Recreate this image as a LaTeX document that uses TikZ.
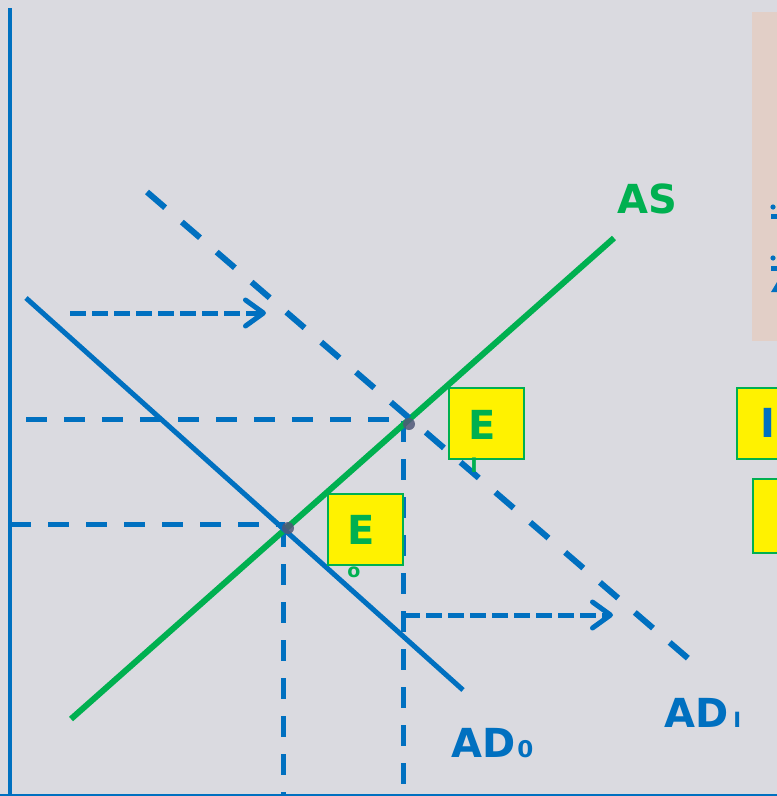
\documentclass[tikz,border=0pt]{standalone}
\usepackage{fontspec}
\setmainfont{DejaVu Sans}
\usetikzlibrary{arrows.meta}
\definecolor{bgc}{RGB}{218,218,224}
\definecolor{pinkc}{RGB}{226,207,199}
\definecolor{bluec}{RGB}{0,112,192}
\definecolor{greenc}{RGB}{0,176,80}
\definecolor{dotc}{RGB}{80,88,120}
\tikzset{
  axisline/.style={draw=bluec, line width=4pt},
  guide/.style={draw=bluec, line width=5pt, dash pattern=on 21pt off 17pt},
  adline/.style={draw=bluec, line width=5pt},
  addash/.style={draw=bluec, line width=6pt, dash pattern=on 24pt off 22pt},
  asline/.style={draw=greenc, line width=6pt},
  shiftarrow/.style={draw=bluec, line width=5pt, dash pattern=on 16pt off 6pt,
    -{Straight Barb[length=18pt,width=26pt,line width=5pt,round]}},
  ebox/.style={draw=greenc, line width=1.5pt, fill=yellow, minimum width=75pt, minimum height=71pt, inner sep=0pt},
  bigtxt/.style={font=\fontsize{40}{40}\selectfont\bfseries, inner sep=0pt},
  eqdot/.style={circle, fill=dotc, opacity=0.85, minimum size=12pt, inner sep=0pt},
  marker/.style={fill=bluec},
}
\begin{document}
\begin{tikzpicture}[x=1pt,y=-1pt]
\useasboundingbox (0,0) rectangle (777,796);
\clip (0,0) rectangle (777,796);
\fill[bgc] (0,0) rectangle (777,796);
\fill[pinkc] (752,12) rectangle (790,341);
% fragments of cut-off text in the pink panel
\fill[marker] (773,207) circle (2.6);
\fill[marker] (771,214) rectangle (779,219);
\fill[marker] (773,258) circle (2.6);
\fill[marker] (771,266) rectangle (779,271);
\fill[marker] (771,292) -- (777,282) -- (777,292) -- cycle;

% axes
\coordinate (ytop) at (10,8);
\coordinate (origin) at (10,796);
\coordinate (xend) at (790,795);
\draw[axisline] (ytop) -- (origin);
\draw[draw=bluec, line width=3pt] (0,795) -- (xend);

% key points
\coordinate (P0) at (285,525);
\coordinate (P1) at (405,420);
\coordinate (Y0) at (10,524);
\coordinate (Y1) at (26,419);
\coordinate (X0) at (283,796);
\coordinate (X1) at (403,796);

% guides
\draw[guide] (Y1) -- (P1 |- Y1);
\draw[guide] (Y0) -- (P0 |- Y0);
\draw[guide] (283,526) -- (X0);
\draw[guide] (403,421) -- (X1);

% curves
\coordinate (AS1) at (71,719);
\coordinate (AS2) at (614,238);
\coordinate (AD0a) at (26,298);
\coordinate (AD0b) at (463,690);
\coordinate (AD1a) at (147,192);
\coordinate (AD1b) at (690,660);
\draw[asline] (AS1) -- (AS2);
\draw[adline] (AD0a) -- (AD0b);
\draw[addash] (AD1a) -- (AD1b);

% shift arrows
\coordinate (A1s) at (70,313);
\coordinate (A1e) at (266,313);
\coordinate (A2s) at (404,615);
\coordinate (A2e) at (613,615);
\draw[shiftarrow] (A1s) -- (A1e);
\draw[shiftarrow] (A2s) -- (A2e);

% equilibrium dots
\node[eqdot] (D0) at (288,528) {};
\node[eqdot] (D1) at (409,424) {};

% E boxes
\node[ebox] (E1) at (486.5,423.5) {};
\node[bigtxt, text=greenc] (E1t) at (482,425) {E};
\node[font=\fontsize{20}{20}\selectfont\bfseries, text=greenc, inner sep=0pt] (E1s) at (474,465) {I};
\node[ebox] (E0) at (365.5,529.5) {};
\node[bigtxt, text=greenc] (E0t) at (361,530) {E};
\node[font=\fontsize{19}{19}\selectfont\bfseries, text=greenc, inner sep=0pt] (E0s) at (354,572) {o};

% right side boxes (cut off)
\node[ebox, minimum width=60pt] (R1) at (767,423.5) {};
\node[bigtxt, text=bluec] (R1t) at (768,423) {I};
\node[ebox, minimum width=50pt, minimum height=74pt] (R2) at (778,516) {};

% labels
\node[bigtxt, text=greenc, anchor=base west] (ASl) at (617,213) {AS};
\node[bigtxt, text=bluec, anchor=base west] (AD0l) at (451,757) {AD\kern2pt{\fontsize{23}{23}\selectfont 0}};
\node[bigtxt, text=bluec, anchor=base west] (AD1l) at (664,727) {AD\kern5pt{\fontsize{21}{21}\selectfont I}};
\end{tikzpicture}
\end{document}
